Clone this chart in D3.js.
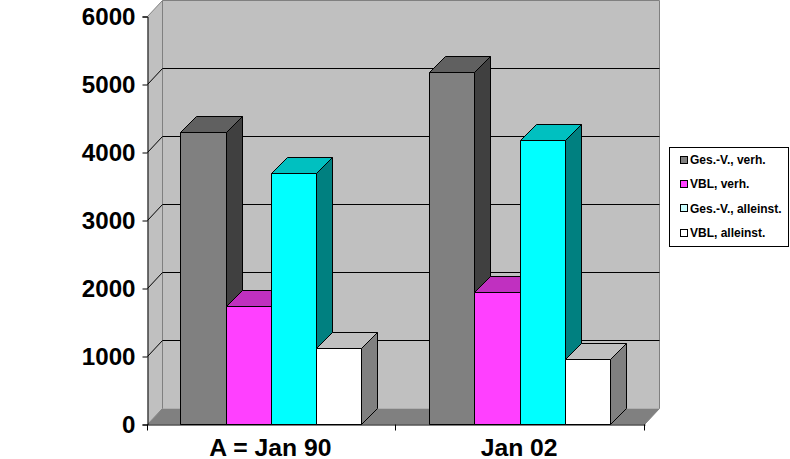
<!DOCTYPE html>
<html><head><meta charset="utf-8">
<script src="https://cdn.jsdelivr.net/npm/d3@7"></script>
<style>html,body{margin:0;padding:0;background:#fff}svg{display:block}text{font-family:"Liberation Sans",Arial,sans-serif;font-weight:bold;fill:#000}</style>
</head><body><svg id="c" width="790" height="459"></svg>
<script>
const categories = ["A = Jan 90", "Jan 02"];
const seriesNames = ["Ges.-V., verh.", "VBL, verh.", "Ges.-V., alleinst.", "VBL, alleinst."];
const gesVVerh = [4290, 5175];
const vblVerh = [1735, 1940];
const gesVAlleinst = [3690, 4175];
const vblAlleinst = [1115, 955];
const yTicks = [0, 1000, 2000, 3000, 4000, 5000, 6000];
const frontColors = ["#808080", "#ff40ff", "#00ffff", "#ffffff"];
const topColors = ["#606060", "#c030c0", "#00c0c0", "#c0c0c0"];
const sideColors = ["#404040", "#802080", "#008080", "#808080"];
const legendColors = ["#808080", "#ff40ff", "#ccffff", "#ffffff"];
const series = [gesVVerh, vblVerh, gesVAlleinst, vblAlleinst];

const svg = d3.select("#c");
const x0 = 147.5, x1 = 644.5, yB = 424.5, yT = 16.5, wx = 15, dx = 16, dy = 16;
const snap = v => Math.floor(v) + 0.5;
const y = d3.scaleLinear().domain([0, 6000]).range([yB, yT]);
const xCat = d3.scaleBand().domain(categories).range([x0, 645]);
const xSer = d3.scaleBand().domain(d3.range(series.length)).range([33.4, 214.4]);
const line = d3.line();
const stretch = (sel, k) => sel.each(function () {
  d3.select(this).attr("textLength", this.getComputedTextLength() * k).attr("lengthAdjust", "spacingAndGlyphs");
});

// walls and floor
svg.append("path").attr("d", line([[x0, yB], [x0 + wx, yB - dy], [x0 + wx, yT - dy], [x0, yT]]) + "Z").attr("fill", "#c0c0c0");
svg.append("rect").attr("x", x0 + wx).attr("y", yT - dy).attr("width", x1 - x0).attr("height", yB - yT).attr("fill", "#c0c0c0");
svg.append("path").attr("d", line([[x0, yB], [x0 + wx, yB - dy], [x1 + wx, yB - dy], [x1, yB]]) + "Z").attr("fill", "#808080");
svg.append("path").attr("d", line([[x0, yT], [x0 + wx, yT - dy], [x1 + wx, yT - dy], [x1 + wx, yB - dy], [x1, yB]]))
  .attr("fill", "none").attr("stroke", "#808080").attr("stroke-width", 1);
svg.append("path").attr("d", line([[x0 + wx, yT - dy], [x0 + wx, yB - dy], [x0, yB]]))
  .attr("fill", "none").attr("stroke", "#808080").attr("stroke-width", 1);

// gridlines
yTicks.filter(t => t > 0 && t < 6000).forEach(t => {
  svg.append("path").attr("d", line([[x0, y(t)], [x0 + wx, y(t) - dy], [x1 + wx, y(t) - dy]]))
    .attr("fill", "none").attr("stroke", "#000").attr("stroke-width", 1);
});

// bars
categories.forEach((c, i) => {
  series.forEach((s, k) => {
    const xl = snap(xCat(c) + xSer(k)), xr = snap(xCat(c) + xSer(k) + xSer.bandwidth()), yt = snap(y(s[i]));
    const g = svg.append("g").attr("stroke", "#000").attr("stroke-width", 1).attr("stroke-linejoin", "round");
    g.append("path").attr("d", line([[xr, yB], [xr + dx, yB - dy], [xr + dx, yt - dy], [xr, yt]]) + "Z").attr("fill", sideColors[k]);
    g.append("path").attr("d", line([[xl, yt], [xl + dx, yt - dy], [xr + dx, yt - dy], [xr, yt]]) + "Z").attr("fill", topColors[k]);
    g.append("rect").attr("x", xl).attr("y", yt).attr("width", xr - xl).attr("height", yB - yt).attr("fill", frontColors[k]);
  });
});

// axes
const yAxis = d3.axisLeft(y).tickValues(yTicks).tickFormat(d3.format("d")).tickSize(5).tickPadding(7);
const gy = svg.append("g").attr("transform", `translate(${x0},0)`).call(yAxis);
gy.select(".domain").attr("stroke", "#000").attr("stroke-width", 1);
gy.selectAll("line").attr("stroke", "#000").attr("stroke-width", 1);
gy.selectAll("text").attr("font-size", 23).attr("font-family", null).attr("dy", "0.35em").call(stretch, 1.05);

const xAxis = d3.axisBottom(xCat).tickSize(0).tickPadding(15);
const gx = svg.append("g").attr("transform", `translate(0,${yB})`).call(xAxis);
gx.select(".domain").attr("stroke", "#000").attr("stroke-width", 1);
gx.selectAll("text").attr("font-size", 23).attr("font-family", null).attr("dx", -1.5).call(stretch, 1.075);
[x0, snap(x0 + xCat.bandwidth()) - 1, x1].forEach(px => {
  gx.append("line").attr("x1", px).attr("x2", px).attr("y1", 0).attr("y2", 6).attr("stroke", "#000").attr("stroke-width", 1);
});

// legend
const lg = svg.append("g");
lg.append("rect").attr("x", 669.5).attr("y", 147.5).attr("width", 119).attr("height", 99).attr("fill", "#fff").attr("stroke", "#000").attr("stroke-width", 1);
const ly = d3.scalePoint().domain(d3.range(seriesNames.length)).range([160, 233]);
seriesNames.forEach((n, k) => {
  lg.append("rect").attr("x", 680.5).attr("y", Math.floor(ly(k)) - 3.5).attr("width", 7).attr("height", 7).attr("fill", legendColors[k]).attr("stroke", "#000").attr("stroke-width", 1);
  lg.append("text").attr("x", 690).attr("y", ly(k) + 4).attr("font-size", 12).text(n);
});
</script></body></html>
